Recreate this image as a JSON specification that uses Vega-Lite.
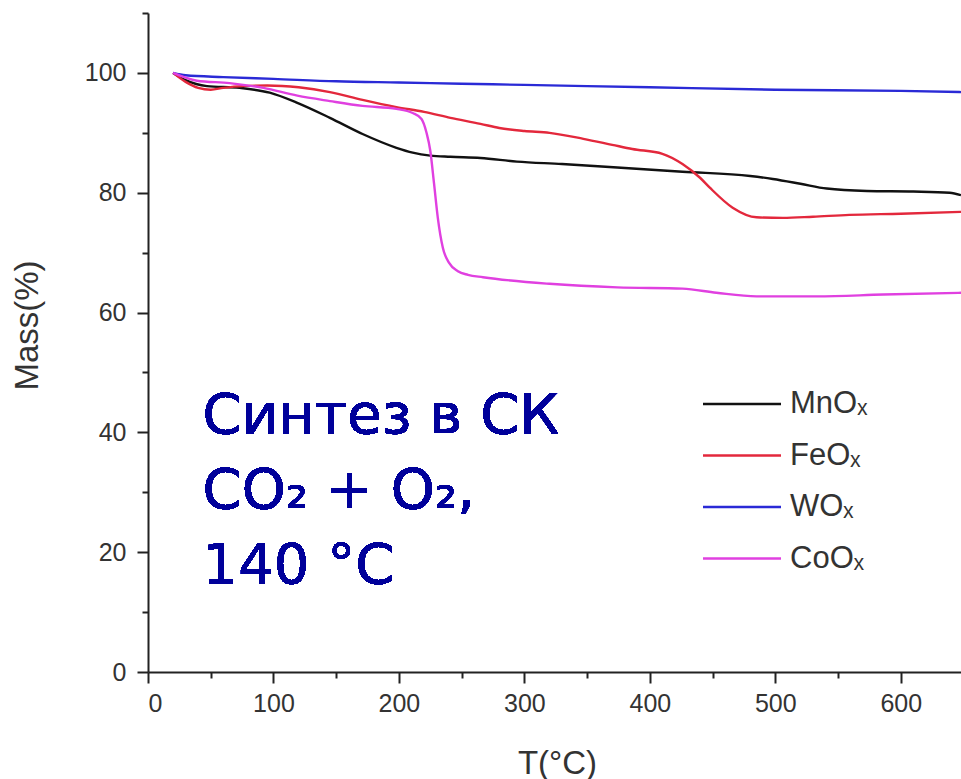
{
  "$schema": "https://vega.github.io/schema/vega-lite/v6.json",
  "width": 813,
  "height": 659,
  "autosize": {"type": "none"},
  "padding": {"left": 148, "top": 13, "right": 0, "bottom": 107},
  "background": "white",
  "config": {
    "view": {"stroke": null},
    "font": "Liberation Sans",
    "axis": {
      "grid": false,
      "domainColor": "#222222",
      "domainWidth": 2,
      "tickColor": "#222222",
      "tickWidth": 2,
      "labelFont": "Liberation Sans",
      "labelFontSize": 25,
      "labelColor": "#333333",
      "titleFont": "Liberation Sans",
      "titleFontSize": 33,
      "titleFontWeight": "normal",
      "titleColor": "#333333",
      "labelOverlap": false
    }
  },
  "data": {
    "values": [
      {"s": "MnOₓ", "T": 20, "M": 100}, {"s": "MnOₓ", "T": 30, "M": 98.8}, {"s": "MnOₓ", "T": 47, "M": 97.8}, {"s": "MnOₓ", "T": 73, "M": 97.5}, {"s": "MnOₓ", "T": 97, "M": 96.7}, {"s": "MnOₓ", "T": 119, "M": 95}, {"s": "MnOₓ", "T": 145, "M": 92.5}, {"s": "MnOₓ", "T": 171, "M": 89.8}, {"s": "MnOₓ", "T": 198, "M": 87.5}, {"s": "MnOₓ", "T": 211, "M": 86.7}, {"s": "MnOₓ", "T": 225, "M": 86.2}, {"s": "MnOₓ", "T": 241, "M": 86}, {"s": "MnOₓ", "T": 265, "M": 85.8}, {"s": "MnOₓ", "T": 294, "M": 85.2}, {"s": "MnOₓ", "T": 330, "M": 84.8}, {"s": "MnOₓ", "T": 374, "M": 84.2}, {"s": "MnOₓ", "T": 426, "M": 83.5}, {"s": "MnOₓ", "T": 480, "M": 82.8}, {"s": "MnOₓ", "T": 498, "M": 82.3}, {"s": "MnOₓ", "T": 520, "M": 81.5}, {"s": "MnOₓ", "T": 541, "M": 80.7}, {"s": "MnOₓ", "T": 573, "M": 80.3}, {"s": "MnOₓ", "T": 610, "M": 80.2}, {"s": "MnOₓ", "T": 639, "M": 80}, {"s": "MnOₓ", "T": 648, "M": 79.6},
      {"s": "FeOₓ", "T": 20, "M": 100}, {"s": "FeOₓ", "T": 30, "M": 98.5}, {"s": "FeOₓ", "T": 40, "M": 97.5}, {"s": "FeOₓ", "T": 50, "M": 97.2}, {"s": "FeOₓ", "T": 60, "M": 97.5}, {"s": "FeOₓ", "T": 75, "M": 97.8}, {"s": "FeOₓ", "T": 95, "M": 97.9}, {"s": "FeOₓ", "T": 120, "M": 97.6}, {"s": "FeOₓ", "T": 145, "M": 96.8}, {"s": "FeOₓ", "T": 171, "M": 95.5}, {"s": "FeOₓ", "T": 198, "M": 94.3}, {"s": "FeOₓ", "T": 220, "M": 93.5}, {"s": "FeOₓ", "T": 241, "M": 92.5}, {"s": "FeOₓ", "T": 265, "M": 91.5}, {"s": "FeOₓ", "T": 280, "M": 90.8}, {"s": "FeOₓ", "T": 300, "M": 90.3}, {"s": "FeOₓ", "T": 320, "M": 90}, {"s": "FeOₓ", "T": 347, "M": 89}, {"s": "FeOₓ", "T": 370, "M": 88}, {"s": "FeOₓ", "T": 386, "M": 87.3}, {"s": "FeOₓ", "T": 410, "M": 86.5}, {"s": "FeOₓ", "T": 426, "M": 84.8}, {"s": "FeOₓ", "T": 440, "M": 82.5}, {"s": "FeOₓ", "T": 448, "M": 80.8}, {"s": "FeOₓ", "T": 466, "M": 77.5}, {"s": "FeOₓ", "T": 485, "M": 75.9}, {"s": "FeOₓ", "T": 506, "M": 75.8}, {"s": "FeOₓ", "T": 530, "M": 76}, {"s": "FeOₓ", "T": 559, "M": 76.3}, {"s": "FeOₓ", "T": 600, "M": 76.5}, {"s": "FeOₓ", "T": 648, "M": 76.8},
      {"s": "WOₓ", "T": 20, "M": 100}, {"s": "WOₓ", "T": 30, "M": 99.6}, {"s": "WOₓ", "T": 60, "M": 99.3}, {"s": "WOₓ", "T": 100, "M": 99}, {"s": "WOₓ", "T": 150, "M": 98.6}, {"s": "WOₓ", "T": 200, "M": 98.4}, {"s": "WOₓ", "T": 250, "M": 98.2}, {"s": "WOₓ", "T": 300, "M": 98}, {"s": "WOₓ", "T": 400, "M": 97.6}, {"s": "WOₓ", "T": 500, "M": 97.2}, {"s": "WOₓ", "T": 600, "M": 97}, {"s": "WOₓ", "T": 648, "M": 96.8},
      {"s": "CoOₓ", "T": 20, "M": 100}, {"s": "CoOₓ", "T": 39, "M": 98.7}, {"s": "CoOₓ", "T": 65, "M": 98.3}, {"s": "CoOₓ", "T": 92, "M": 97.5}, {"s": "CoOₓ", "T": 119, "M": 96.2}, {"s": "CoOₓ", "T": 145, "M": 95.3}, {"s": "CoOₓ", "T": 171, "M": 94.5}, {"s": "CoOₓ", "T": 198, "M": 94}, {"s": "CoOₓ", "T": 211, "M": 93.3}, {"s": "CoOₓ", "T": 218, "M": 92.3}, {"s": "CoOₓ", "T": 222, "M": 90}, {"s": "CoOₓ", "T": 225, "M": 87}, {"s": "CoOₓ", "T": 228, "M": 81.5}, {"s": "CoOₓ", "T": 231, "M": 75.8}, {"s": "CoOₓ", "T": 235, "M": 70.8}, {"s": "CoOₓ", "T": 240, "M": 68.3}, {"s": "CoOₓ", "T": 247, "M": 66.9}, {"s": "CoOₓ", "T": 255, "M": 66.3}, {"s": "CoOₓ", "T": 267, "M": 65.9}, {"s": "CoOₓ", "T": 320, "M": 64.8}, {"s": "CoOₓ", "T": 374, "M": 64.2}, {"s": "CoOₓ", "T": 426, "M": 64}, {"s": "CoOₓ", "T": 453, "M": 63.3}, {"s": "CoOₓ", "T": 485, "M": 62.7}, {"s": "CoOₓ", "T": 533, "M": 62.7}, {"s": "CoOₓ", "T": 586, "M": 63}, {"s": "CoOₓ", "T": 648, "M": 63.3}
    ]
  },
  "layer": [
    {
      "mark": {"type": "line", "interpolate": "monotone", "strokeWidth": 2.4, "clip": true},
      "encoding": {
        "x": {
          "field": "T", "type": "quantitative",
          "scale": {"domain": [0, 648], "nice": false, "zero": false},
          "axis": {
            "title": "T(°C)",
            "values": [0, 50, 100, 150, 200, 250, 300, 350, 400, 450, 500, 550, 600],
            "labelExpr": "datum.value % 100 === 0 ? datum.label : ''",
            "tickSize": {"condition": {"test": "datum.value % 100 !== 0", "value": 6}, "value": 11},
            "labelPadding": 8,
            "titleX": 409,
            "titleY": 101,
            "titleBaseline": "alphabetic",
            "titleAnchor": "middle"
          }
        },
        "y": {
          "field": "M", "type": "quantitative",
          "scale": {"domain": [0, 110], "nice": false},
          "axis": {
            "title": "Mass(%)",
            "values": [0, 10, 20, 30, 40, 50, 60, 70, 80, 90, 100, 110],
            "labelExpr": "datum.value % 20 === 0 && datum.value <= 100 ? datum.label : ''",
            "tickSize": {"condition": {"test": "datum.value % 20 !== 0", "value": 6}, "value": 11},
            "labelPadding": 11,
            "titleX": -111,
            "titleY": 312,
            "titleAngle": -90,
            "titleBaseline": "alphabetic",
            "titleAlign": "center"
          }
        },
        "color": {
          "field": "s", "type": "nominal",
          "scale": {"domain": ["MnOₓ", "FeOₓ", "WOₓ", "CoOₓ"], "range": ["#111111", "#e3283c", "#2a2ad6", "#e040e0"]},
          "legend": {
            "title": null,
            "orient": "none",
            "legendX": 573,
            "legendY": 370,
            "symbolType": "M-2,0H2",
            "symbolSize": 1521,
            "symbolStrokeWidth": 2.5,
            "labelFont": "Liberation Sans",
            "labelFontSize": 31,
            "labelColor": "#333333",
            "labelOffset": 27,
            "rowPadding": 15.5
          }
        }
      }
    },
    {
      "mark": {"type": "text", "align": "left", "baseline": "alphabetic", "font": "DejaVu Sans", "fontSize": 56, "color": "#00009a", "lineHeight": 75},
      "encoding": {
        "x": {"datum": 43.5},
        "y": {"datum": 39.9},
        "text": {"value": ["Синтез в СК", "CO₂ + O₂,", "140 °C"]}
      }
    }
  ]
}
